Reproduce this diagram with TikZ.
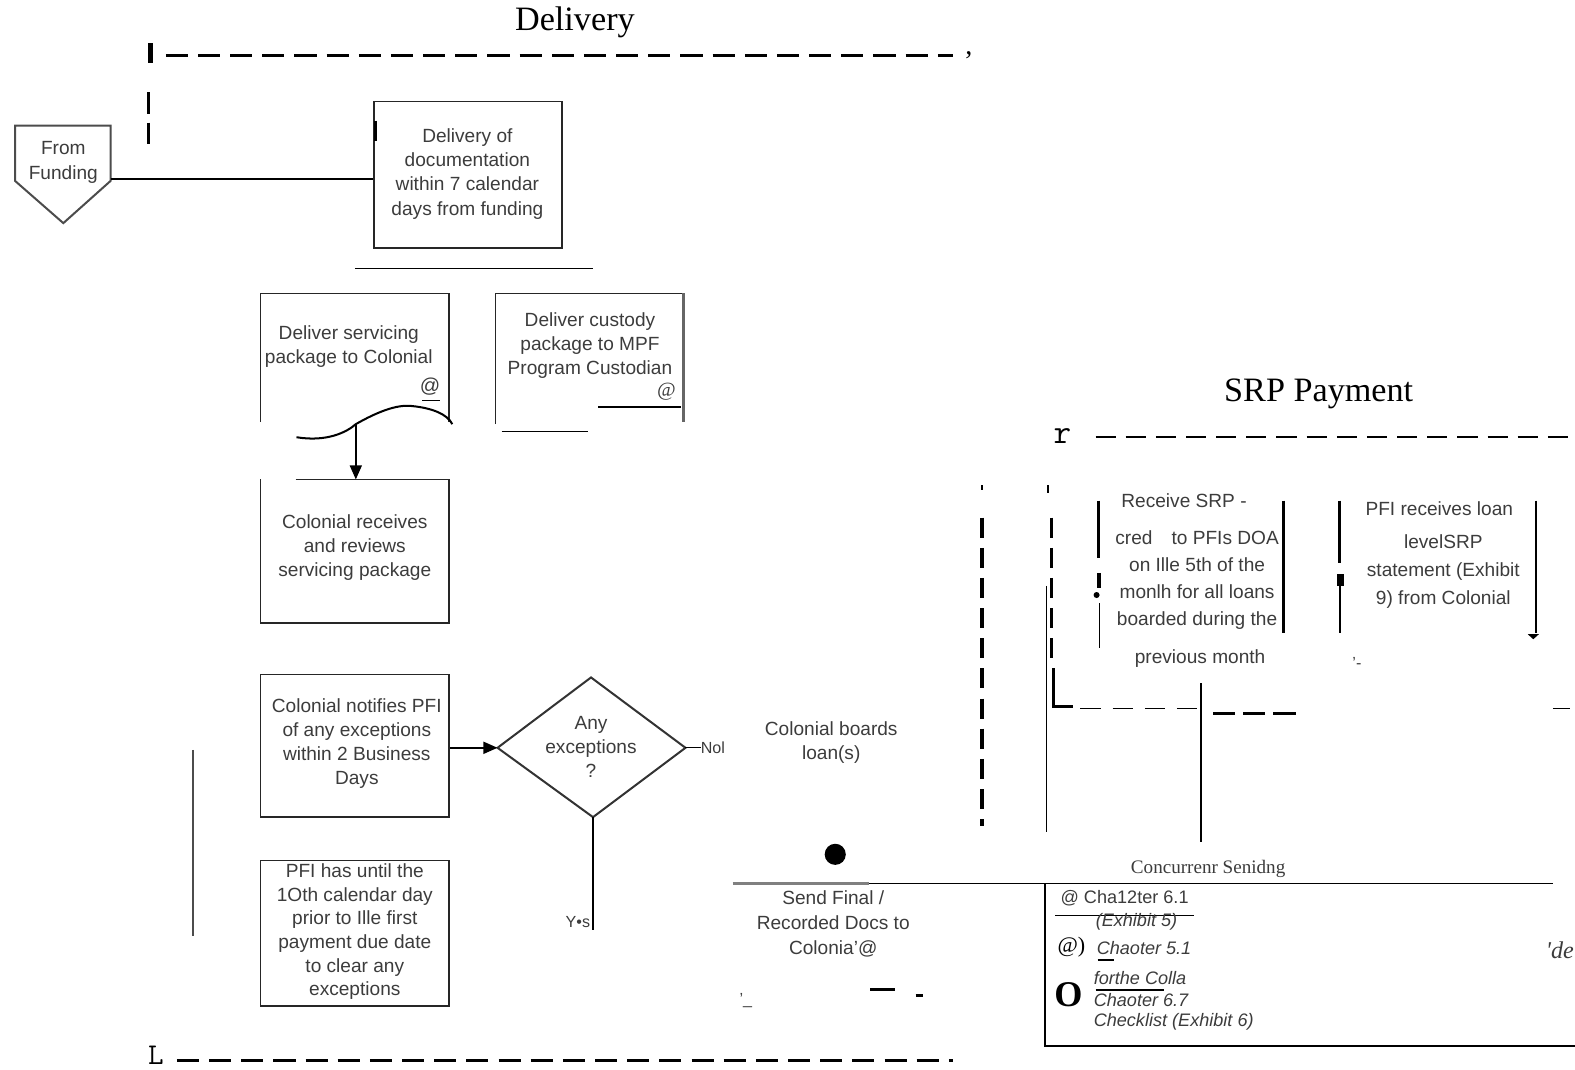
\documentclass[tikz,border=0pt]{standalone}
\usepackage{fontspec}
\setmainfont{Liberation Sans}
\newfontfamily\seriffont{Liberation Serif}
\usetikzlibrary{arrows.meta,shapes.geometric}
\definecolor{txtgray}{HTML}{3C3C3C}
\begin{document}
\begin{tikzpicture}[x=1pt,y=-1pt,
  txt/.style={font=\fontsize{19}{24}\selectfont, text=txtgray, align=center, inner sep=0pt},
  small/.style={font=\fontsize{16}{22}\selectfont, text=txtgray, inner sep=0pt},
  ital/.style={font=\fontsize{18}{21}\selectfont\itshape, text=txtgray, inner sep=0pt, anchor=west},
  title/.style={font=\fontsize{34}{36}\selectfont\seriffont, inner sep=0pt},
  boxline/.style={line width=1.6pt, draw=black!85},
  thin/.style={line width=1.2pt},
  bigdash/.style={line width=3pt, dash pattern=on 22pt off 10pt},
  vdash/.style={line width=3pt, dash pattern=on 20pt off 10pt},
  arr/.style={line width=1.4pt, -{Triangle[length=14pt,width=12pt]}},
]
\useasboundingbox (0,0) rectangle (1567,1064);

% ---------------- Delivery frame ----------------
\node[title] (tdel) at (572,22) {Delivery};
\draw[line width=5pt] (150,43) -- (150,63);
\draw[bigdash] (165,55) -- (948,55);
\node[font=\fontsize{28}{30}\selectfont\seriffont, inner sep=0] (comma) at (964,55) {,};
\draw[line width=3pt] (148,92) -- (148,113) (148,122) -- (148,143);
\node[font=\fontsize{30}{30}\selectfont\ttfamily, inner sep=0] (Lbot) at (155,1050) {L};
\draw[bigdash] (176,1055) -- (948,1055);
\draw[line width=1.5pt, draw=black!70] (192,746) -- (192,931);

% From Funding
\draw[line width=2pt, draw=black!70] (15,125) -- (110,125) -- (110,180) -- (63,222) -- (15,180) -- cycle;
\node[txt, font=\fontsize{19}{25}\selectfont] (funding) at (63,162) {From\\Funding};
\coordinate (fe) at (110,178);

% Delivery of documentation
\node[boxline, draw, minimum width=187pt, minimum height=146pt, inner sep=0pt] (b1) at (465.5,174) {};
\node[txt] (b1t) at (465,173) {Delivery of\\documentation\\within 7 calendar\\days from funding};
\draw[line width=3pt] (374,120) -- (374,140);
\draw[thin] (fe) -- (fe -| b1.west);
\draw[thin] (353,267) -- (590,267);

% Deliver servicing package (document shape)
\draw[boxline] (259,420) -- (259,292) -- (447,292) -- (447,420);
\coordinate (wavemid) at (354,422);
\draw[line width=2pt] (295,435) .. controls (325,440) and (345,430) .. (wavemid) .. controls (375,410) and (395,402) .. (410,404) .. controls (430,406) and (445,412) .. (450,422);
\node[txt] (b2t) at (347,345) {Deliver servicing\\package to Colonial};
\node[txt, font=\fontsize{20}{20}\selectfont] (at1) at (428,385) {@};
\draw[line width=1pt] (420,398) -- (438,398);

% Colonial receives
\draw[boxline] (294,477) -- (447,477) -- (447,620) -- (259,620) -- (259,477);
\coordinate (b3top) at (354,477);
\node[txt] (b3t) at (353,545) {Colonial receives\\and reviews\\servicing package};
\draw[arr] (wavemid) -- (b3top);

% Deliver custody package
\draw[boxline] (493,422) -- (493,292) -- (680,292);
\draw[line width=3pt, draw=black!60] (680,292) -- (680,420);
\node[txt] (b4t) at (587,344) {Deliver custody\\package to MPF\\Program Custodian};
\node[txt, font=\fontsize{20}{20}\selectfont\seriffont\itshape] (at2) at (663,390) {@};
\draw[line width=1.2pt] (595,405) -- (678,405);
\draw[line width=1.2pt] (499,429) -- (585,429);

% Colonial notifies
\node[boxline, draw, minimum width=188pt, minimum height=142pt, inner sep=0pt] (b5) at (353,742) {};
\node[txt] (b5t) at (355,740) {Colonial notifies PFI\\of any exceptions\\within 2 Business\\Days};

% Diamond
\draw[line width=2pt, draw=black!80] (495,744) -- (588,674) -- (682,744) -- (590,813) -- cycle;
\coordinate (dl) at (495,744);
\coordinate (dr) at (682,744);
\coordinate (db) at (590,813);
\node[txt] (dt) at (588,743) {Any\\exceptions\\?};
\draw[arr] (b5.east |- dl) -- (dl);
\coordinate (noend) at (697,744);
\draw[thin] (dr) -- (noend);
\node[small, anchor=west] (no) at (noend) {Nol};
\coordinate (yesend) at (590,925);
\draw[line width=1.5pt] (db) -- (yesend);
\node[small] (yes) at (575,917) {Y•s};

% PFI has until
\node[boxline, draw, minimum width=188pt, minimum height=145pt, inner sep=0pt] (b6) at (353,928.5) {};
\node[txt, font=\fontsize{19}{23.6}\selectfont] (b6t) at (353,927) {PFI has until the\\1Oth calendar day\\prior to Ille first\\payment due date\\to clear any\\exceptions};

% Colonial boards
\node[txt] (cb) at (827,739) {Colonial boards\\loan(s)};
\fill (831,850) circle (10.5pt);

% Send final
\draw[line width=3pt, draw=black!50] (729,879) -- (865,879);
\draw[line width=1.5pt] (865,879) -- (1545,879);
\node[txt, font=\fontsize{19}{25}\selectfont] (sf) at (829,919) {Send Final /\\Recorded Docs to\\Colonia'@};
\node[small] (m1) at (742,995) {'\_};
\draw[line width=3pt] (866,984) -- (890,984);
\draw[line width=3pt] (911,990) -- (918,990);

% Concurrent servicing box
\node[font=\fontsize{19}{20}\selectfont\seriffont, text=txtgray, inner sep=0] (cs) at (1202,865) {Concurrenr Senidng};
\draw[line width=2pt] (1040,879) -- (1040,1041) -- (1575,1041);
\node[small, anchor=west, font=\fontsize{18}{20}\selectfont] (c1) at (1055,894) {@ Cha12ter 6.1};
\draw[line width=1.2pt] (1050,911) -- (1188,911);
\node[ital] (c2) at (1090,917) {(Exhibit 5)};
\node[font=\fontsize{22}{22}\selectfont\seriffont, inner sep=0, anchor=west] (c3a) at (1052,942) {@)};
\node[ital] (c3) at (1091,943) {Chaoter 5.1};
\draw[line width=2pt] (1092,955) -- (1108,955);
\node[font=\fontsize{24}{24}\selectfont\seriffont\itshape, text=txtgray, inner sep=0] (de) at (1552,945) {'de};
\node[font=\fontsize{36}{36}\selectfont\seriffont\bfseries, inner sep=0] (bigO) at (1063,990) {O};
\node[ital] (c4) at (1088,973) {forthe Colla};
\draw[line width=1.5pt] (1090,985) -- (1158,985);
\node[ital] (c5) at (1088,995) {Chaoter 6.7};
\node[ital] (c6) at (1088,1017) {Checklist (Exhibit 6)};

% ---------------- SRP Payment ----------------
\node[title] (tsrp) at (1312,392) {SRP Payment};
\node[font=\fontsize{34}{34}\selectfont\ttfamily, inner sep=0] (rr) at (1057,434) {r};
\draw[bigdash, line width=2.5pt, dash pattern=on 20pt off 10pt] (1090,435) -- (1560,435);

\draw[line width=2pt] (977,483) -- (977,488);
\draw[vdash] (977,515) -- (977,822);
\draw[line width=2pt] (1043,483) -- (1043,490);
\draw[vdash] (1046,515) -- (1046,660);
\draw[line width=2.5pt] (1048,665) -- (1048,703) -- (1068,703);
\draw[line width=1.2pt, dash pattern=on 20pt off 12pt] (1075,705) -- (1195,705);
\draw[line width=1.2pt] (1041,583) -- (1041,828);
\draw[line width=1.5pt] (1195,680) -- (1195,838);
\draw[line width=3pt, dash pattern=on 22pt off 8pt] (1207,710) -- (1290,710);
\draw[line width=1.2pt] (1545,705) -- (1562,705);

% Receive SRP box
\draw[line width=3pt] (1093,498) -- (1093,555);
\draw[line width=4pt] (1093,570) -- (1093,585);
\fill (1091,592) circle (3pt);
\draw[line width=1.5pt] (1094,600) -- (1094,645);
\draw[line width=2.5pt] (1277,498) -- (1277,630);
\node[txt] (r1) at (1178,498) {Receive SRP -};
\node[txt, font=\fontsize{19}{27}\selectfont] (r2) at (1191,577) {cred\quad to PFIs DOA\\on Ille 5th of the\\monlh for all loans\\boarded during the};
\node[txt] (r3) at (1194,655) {previous month};

% PFI receives loan level box
\draw[line width=3pt] (1333,498) -- (1333,560);
\fill (1330,571) rectangle (1337,583);
\draw[line width=2.5pt] (1333,583) -- (1333,630);
\draw[line width=2pt] (1528,498) -- (1528,630);
\fill (1520,631) -- (1531,631) -- (1525.5,636) -- cycle;
\node[txt] (p1) at (1432,506) {PFI receives loan};
\node[txt, font=\fontsize{19}{28}\selectfont] (p2) at (1436,569) {levelSRP\\statement (Exhibit\\9) from Colonial};
\node[small] (m2) at (1350,660) {'-};
\end{tikzpicture}
\end{document}
